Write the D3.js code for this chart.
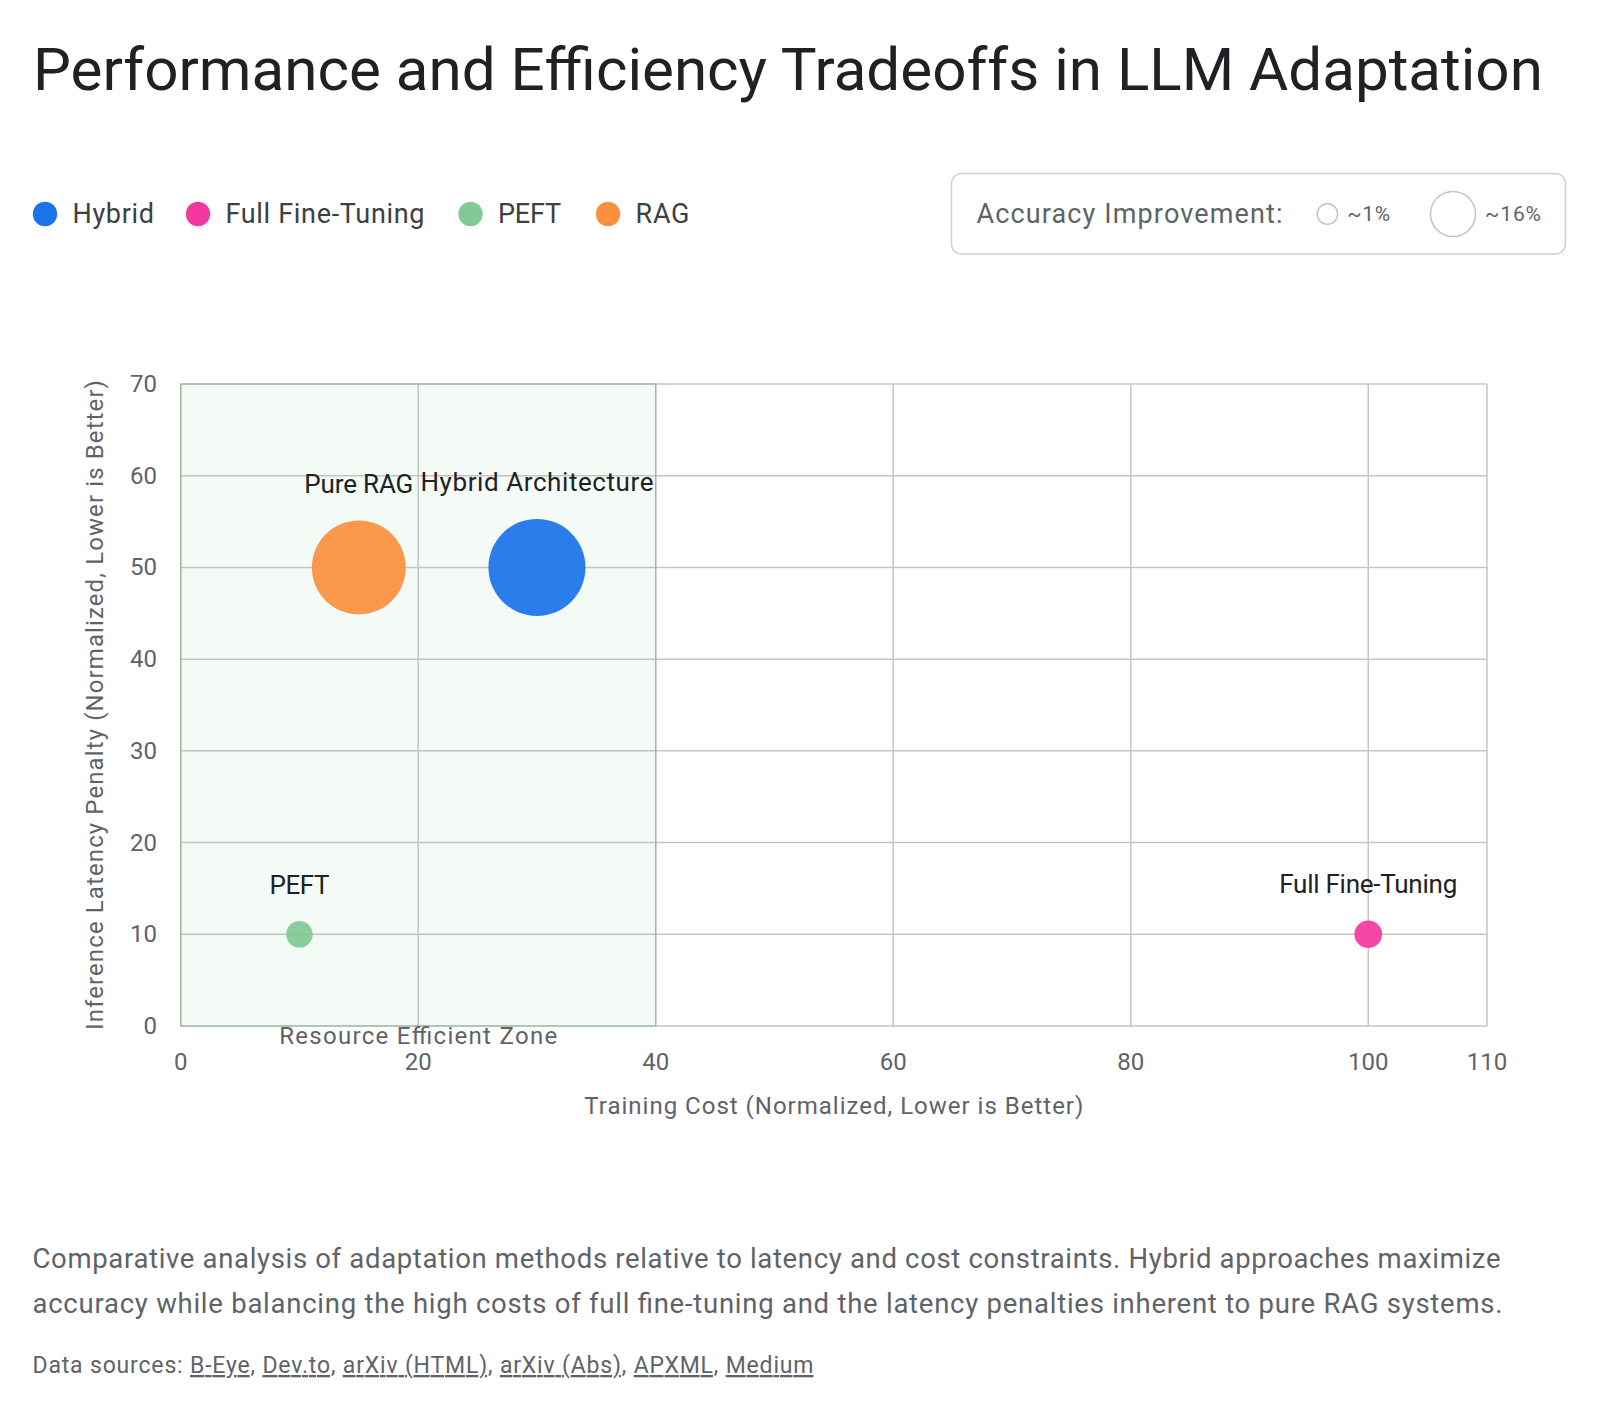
<!DOCTYPE html>
<html>
<head>
<meta charset="utf-8">
<script src="https://cdn.jsdelivr.net/npm/d3@7/dist/d3.min.js"></script>
<style>
  html, body { margin: 0; padding: 0; background: #fff; }
  svg { display: block; font-family: Roboto, "Noto Sans", sans-serif; }
</style>
</head>
<body>
<svg id="chart" width="1600" height="1414"></svg>
<script>
// ---- data ----
const methods = ["Hybrid", "Full Fine-Tuning", "PEFT", "RAG"];
const colors = ["#1a73e8", "#f538a0", "#81c995", "#fa903e"];
const pointLabels = ["Hybrid Architecture", "Full Fine-Tuning", "PEFT", "Pure RAG"];
const trainingCost = [30, 100, 10, 15];
const latencyPenalty = [50, 10, 10, 50];
const accuracyGain = [16, 1.3, 1.2, 15];
const xTicks = [0, 20, 40, 60, 80, 100, 110];
const yTicks = [0, 10, 20, 30, 40, 50, 60, 70];
const zone = { x0: 0, x1: 40, y0: 0, y1: 70, label: "Resource Efficient Zone" };
const sizeLegend = [{ v: 1, label: "~1%" }, { v: 16, label: "~16%" }];
const titleText = "Performance and Efficiency Tradeoffs in LLM Adaptation";
const captionLines = [
  "Comparative analysis of adaptation methods relative to latency and cost constraints. Hybrid approaches maximize",
  "accuracy while balancing the high costs of full fine-tuning and the latency penalties inherent to pure RAG systems."
];
const sources = ["B-Eye", "Dev.to", "arXiv (HTML)", "arXiv (Abs)", "APXML", "Medium"];

const svg = d3.select("#chart");

// ---- title ----
const title = svg.append("text").attr("x", 33).attr("y", 90)
  .attr("font-size", 58).attr("fill", "#202124").text(titleText);
{
  const w = title.node().getComputedTextLength();
  title.attr("font-size", 58 * 1510 / w);
}

// ---- color legend ----
const legendCx = [45, 198, 470.5, 608];
const legendW = [81.5, 199, 63, 54];
methods.forEach((m, i) => {
  svg.append("circle").attr("cx", legendCx[i]).attr("cy", 214).attr("r", 12.2).attr("fill", colors[i]);
  svg.append("text").attr("x", legendCx[i] + 27.5).attr("y", 214).attr("dominant-baseline", "central")
    .attr("font-size", 27).attr("fill", "#3c4043")
    .attr("textLength", legendW[i]).attr("lengthAdjust", "spacing").text(m);
});

// ---- size legend ----
const lg = svg.append("g");
lg.append("rect").attr("x", 951.5).attr("y", 173.5).attr("width", 614).attr("height", 80.5)
  .attr("rx", 10).attr("fill", "#fff").attr("stroke", "#d0d0d0").attr("stroke-width", 1.5);
lg.append("text").attr("x", 976.5).attr("y", 214).attr("dominant-baseline", "central")
  .attr("font-size", 27).attr("fill", "#5f6368")
  .attr("textLength", 306).attr("lengthAdjust", "spacing").text("Accuracy Improvement:");
const legendR = d3.scaleSqrt().domain([0, 16]).range([0, 22.5]);
const legendPos = [1327.5, 1453];
const legendTW = [43, 56];
sizeLegend.forEach((s, i) => {
  const r = Math.max(10.2, legendR(s.v));
  lg.append("circle").attr("cx", legendPos[i]).attr("cy", 214).attr("r", r)
    .attr("fill", "none").attr("stroke", "#c4c4c4").attr("stroke-width", 1.5);
  lg.append("text").attr("x", legendPos[i] + r + 9.5).attr("y", 214).attr("dominant-baseline", "central")
    .attr("font-size", 21).attr("fill", "#5f6368")
    .attr("textLength", legendTW[i]).attr("lengthAdjust", "spacing").text(s.label);
});

// ---- plot ----
const L = 180.7, R = 1487, T = 384, B = 1026;
const x = d3.scaleLinear().domain([0, 110]).range([L, R]);
const y = d3.scaleLinear().domain([0, 70]).range([B, T]);
const r = d3.scaleSqrt().domain([0, 16]).range([0, 48.5]);

const g = svg.append("g");
// gridlines
g.selectAll(".gx").data(xTicks).join("line")
  .attr("x1", d => x(d)).attr("x2", d => x(d)).attr("y1", T).attr("y2", B)
  .attr("stroke", "#c6c6c6").attr("stroke-width", 1.5);
g.selectAll(".gy").data(yTicks).join("line")
  .attr("x1", L).attr("x2", R).attr("y1", d => y(d)).attr("y2", d => y(d))
  .attr("stroke", "#c6c6c6").attr("stroke-width", 1.5);

// zone overlay
g.append("rect").attr("x", x(zone.x0)).attr("y", y(zone.y1))
  .attr("width", x(zone.x1) - x(zone.x0)).attr("height", y(zone.y0) - y(zone.y1))
  .attr("fill", "rgba(129,201,149,0.09)").attr("stroke", "rgba(129,180,140,0.55)").attr("stroke-width", 1.5);
g.append("text").attr("x", x((zone.x0 + zone.x1) / 2)).attr("y", B + 10)
  .attr("text-anchor", "middle").attr("dominant-baseline", "central")
  .attr("font-size", 24).attr("fill", "#5f6368")
  .attr("textLength", 278).attr("lengthAdjust", "spacing").text(zone.label);

// tick labels
g.selectAll(".tx").data(xTicks).join("text")
  .attr("x", d => x(d)).attr("y", B + 36).attr("text-anchor", "middle")
  .attr("dominant-baseline", "central").attr("font-size", 24).attr("fill", "#5f6368").text(d => d);
g.selectAll(".ty").data(yTicks).join("text")
  .attr("x", 157).attr("y", d => y(d)).attr("text-anchor", "end")
  .attr("dominant-baseline", "central").attr("font-size", 24).attr("fill", "#5f6368").text(d => d);

// axis titles
g.append("text").attr("x", (L + R) / 2).attr("y", 1106).attr("text-anchor", "middle")
  .attr("dominant-baseline", "central").attr("font-size", 24).attr("fill", "#5f6368")
  .attr("textLength", 499).attr("lengthAdjust", "spacing")
  .text("Training Cost (Normalized, Lower is Better)");
g.append("text").attr("transform", `translate(95,${(T + B) / 2}) rotate(-90)`)
  .attr("text-anchor", "middle").attr("dominant-baseline", "central")
  .attr("font-size", 24).attr("fill", "#5f6368")
  .attr("textLength", 650).attr("lengthAdjust", "spacing")
  .text("Inference Latency Penalty (Normalized, Lower is Better)");

// bubbles
const labelW = { "Hybrid Architecture": 233, "Full Fine-Tuning": 178, "PEFT": 60, "Pure RAG": 109 };
const pts = methods.map((m, i) => ({
  m, c: colors[i], lab: pointLabels[i], xv: trainingCost[i], yv: latencyPenalty[i], a: accuracyGain[i]
}));
g.selectAll(".pt").data(pts).join("circle")
  .attr("cx", d => x(d.xv)).attr("cy", d => y(d.yv)).attr("r", d => r(d.a))
  .attr("fill", d => d.c).attr("fill-opacity", 0.93);
g.selectAll(".pl").data(pts).join("text")
  .attr("x", d => x(d.xv)).attr("y", d => y(d.yv) - r(d.a) - 36.5)
  .attr("text-anchor", "middle").attr("dominant-baseline", "central")
  .attr("font-size", 26).attr("fill", "#202124")
  .attr("textLength", d => labelW[d.lab]).attr("lengthAdjust", "spacing")
  .text(d => d.lab);

// ---- caption ----
const capW = [1468, 1470];
captionLines.forEach((line, i) => {
  svg.append("text").attr("x", 32.5).attr("y", 1268 + i * 45).attr("font-size", 27.5)
    .attr("fill", "#5f6368").attr("textLength", capW[i]).attr("lengthAdjust", "spacing").text(line);
});

// ---- sources ----
const st = svg.append("text").attr("x", 32.5).attr("y", 1373).attr("font-size", 23).attr("fill", "#5f6368")
  .attr("textLength", 781).attr("lengthAdjust", "spacing");
st.append("tspan").text("Data sources: ");
sources.forEach((s, i) => {
  st.append("tspan").attr("text-decoration", "underline").text(s);
  if (i < sources.length - 1) st.append("tspan").text(", ");
});
</script>
</body>
</html>
